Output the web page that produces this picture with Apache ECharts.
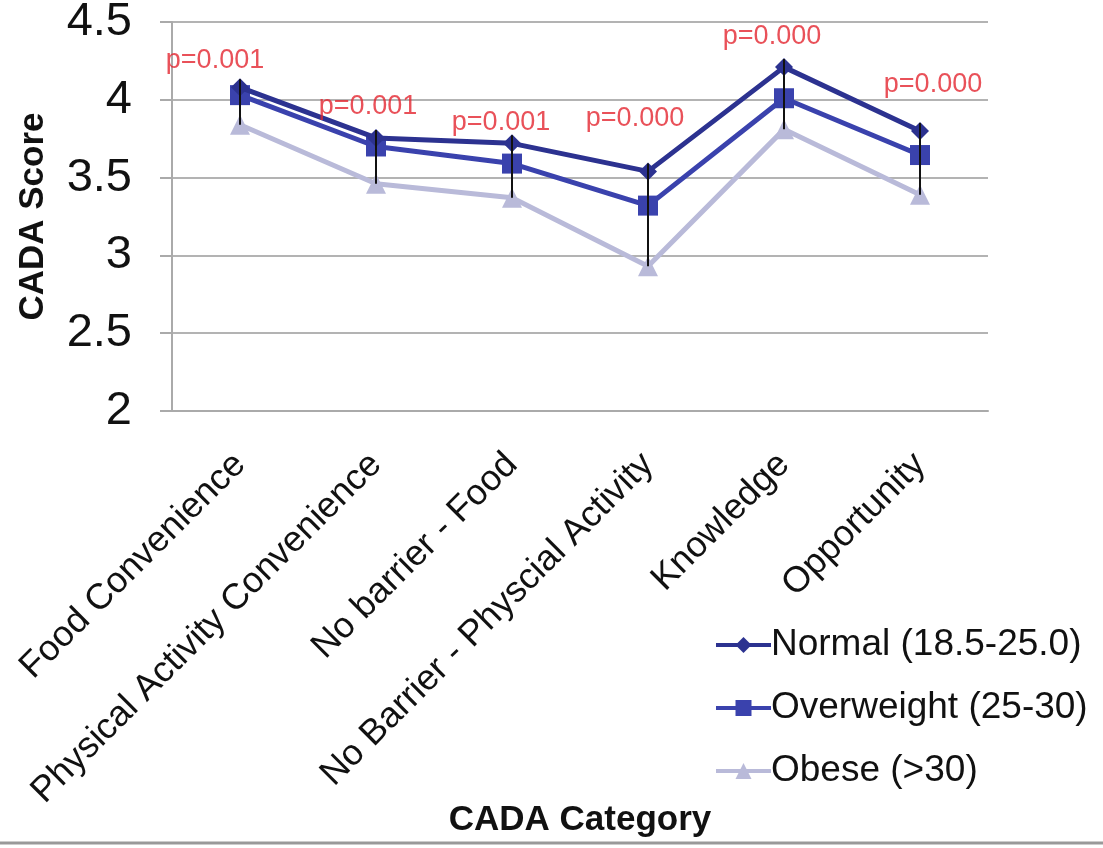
<!DOCTYPE html>
<html>
<head>
<meta charset="utf-8">
<script src="https://cdn.jsdelivr.net/npm/echarts@6/dist/echarts.min.js"></script>
<style>html,body{margin:0;padding:0;background:#fff;}#main{width:1103px;height:848px;}</style>
</head>
<body>
<div id="main"></div>
<script>
const categories = ['Food Convenience', 'Physical Activity Convenience', 'No barrier - Food', 'No Barrier - Physcial Activity', 'Knowledge', 'Opportunity'];
const seriesNames = ['Normal (18.5-25.0)', 'Overweight (25-30)', 'Obese (>30)'];
const normal = [4.08, 3.755, 3.72, 3.54, 4.21, 3.80];
const overweight = [4.03, 3.70, 3.59, 3.32, 4.01, 3.645];
const obese = [3.84, 3.46, 3.37, 2.93, 3.81, 3.39];
const pValues = ['p=0.001', 'p=0.001', 'p=0.001', 'p=0.000', 'p=0.000', 'p=0.000'];
const yTicks = { min: 2, max: 4.5, interval: 0.5 };

const FONT = "'Liberation Sans', Arial, Helvetica, sans-serif";
const pOffsets = [[-25, -27], [-8, -31], [-11, -21], [-13, -53], [-12, -31], [13, -46]];

const errData = categories.map((c, i) => {
  const vals = [normal[i], overweight[i], obese[i]];
  return [i, Math.min.apply(null, vals), Math.max.apply(null, vals)];
});

const chart = echarts.init(document.getElementById('main'), null, { renderer: 'canvas' });
chart.setOption({
  backgroundColor: '#fff',
  animation: false,
  textStyle: { fontFamily: FONT },
  grid: { left: 172, right: 115, top: 22, bottom: 437, containLabel: false, outerBoundsMode: 'none' },
  legend: {
    orient: 'vertical',
    left: 709,
    top: 620,
    itemWidth: 55,
    itemHeight: 20,
    itemGap: 23,
    lineStyle: { width: 4 },
    textStyle: { fontSize: 37, color: '#111', fontFamily: FONT, lineHeight: 40, padding: [0, 0, 0, -5] },
    data: seriesNames
  },
  xAxis: {
    type: 'category',
    data: categories,
    name: 'CADA Category',
    nameLocation: 'middle',
    nameGap: 392,
    nameMoveOverlap: false,
    nameTextStyle: { fontSize: 35, fontWeight: 'bold', color: '#111', fontFamily: FONT },
    axisLine: { show: true, lineStyle: { color: '#aaa', width: 2 } },
    axisTick: { show: false },
    axisLabel: { rotate: 45, fontSize: 36, color: '#111', margin: 48, interval: 0, fontFamily: FONT },
    splitLine: { show: false }
  },
  yAxis: {
    type: 'value',
    min: yTicks.min,
    max: yTicks.max,
    interval: yTicks.interval,
    name: 'CADA Score',
    nameLocation: 'middle',
    nameGap: 121,
    nameRotate: 90,
    nameMoveOverlap: false,
    nameTextStyle: { fontSize: 35, fontWeight: 'bold', color: '#111', fontFamily: FONT },
    axisLine: { show: true, lineStyle: { color: '#aaa', width: 2 } },
    axisTick: { show: true, length: 12, lineStyle: { color: '#aaa', width: 2 } },
    axisLabel: { fontSize: 47, color: '#111', margin: 40, fontFamily: FONT, formatter: v => String(v) },
    splitLine: { show: true, lineStyle: { color: '#b3b3b3', width: 2 } }
  },
  series: [
    {
      name: seriesNames[2], type: 'line', data: obese, z: 2,
      symbol: 'triangle', symbolSize: 20,
      lineStyle: { color: '#b9bad9', width: 5 },
      itemStyle: { color: '#b9bad9' }
    },
    {
      name: seriesNames[1], type: 'line', data: overweight, z: 3,
      symbol: 'rect', symbolSize: 20,
      lineStyle: { color: '#3a42ad', width: 5 },
      itemStyle: { color: '#3a42ad' }
    },
    {
      name: seriesNames[0], type: 'line', data: normal, z: 4,
      symbol: 'diamond', symbolSize: 18,
      lineStyle: { color: '#2c3290', width: 5 },
      itemStyle: { color: '#2c3290' }
    },
    {
      type: 'custom', z: 5, silent: true,
      data: errData,
      renderItem: function (params, api) {
        const top = api.coord([api.value(0), api.value(2)]);
        const bot = api.coord([api.value(0), api.value(1)]);
        return {
          type: 'line',
          shape: { x1: top[0], y1: top[1] - 8, x2: bot[0], y2: bot[1] },
          style: { stroke: '#111', lineWidth: 2 }
        };
      }
    },
    {
      type: 'scatter', z: 6, silent: true, symbolSize: 0,
      data: normal.map((v, i) => ({
        value: [i, v],
        label: { show: true, formatter: pValues[i], position: 'inside', offset: pOffsets[i], fontSize: 27, color: '#e3262f', fontFamily: FONT }
      }))
    }
  ],
  graphic: [
    { type: 'line', shape: { x1: 0, y1: 843, x2: 1103, y2: 843 }, style: { stroke: '#999', lineWidth: 3 }, z: 10 }
  ]
});
</script>
</body>
</html>
